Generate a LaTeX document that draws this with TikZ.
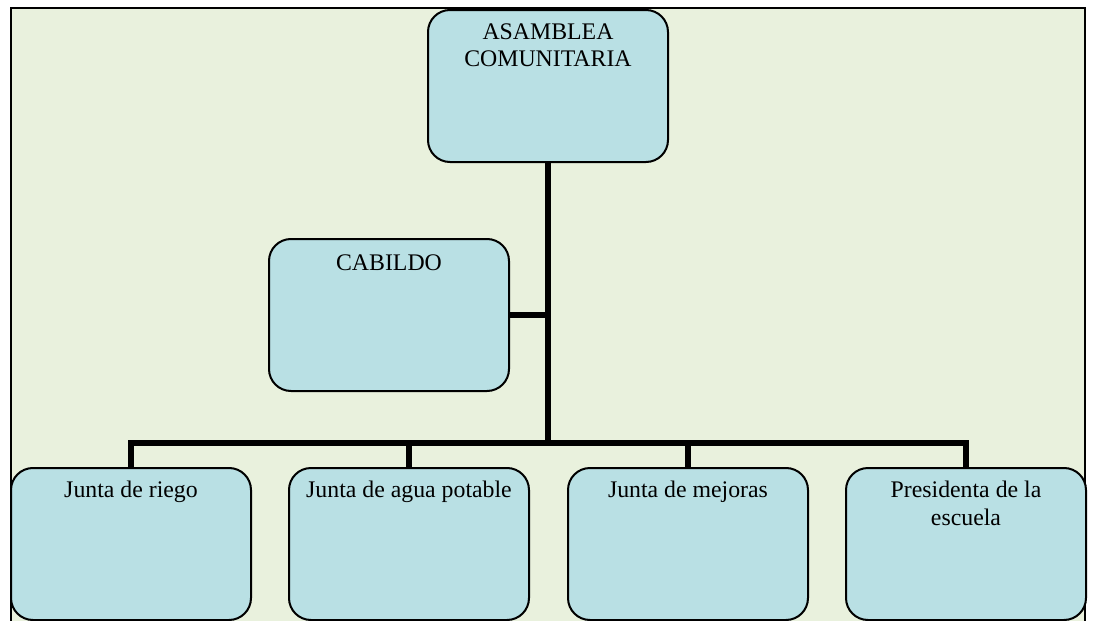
\documentclass[tikz,border=0pt]{standalone}
\usepackage{fontspec}
\setmainfont{Liberation Serif}
\usetikzlibrary{math,positioning}
\definecolor{fondo}{RGB}{233,241,221}
\definecolor{cajaazul}{RGB}{185,224,228}

\begin{document}
\begin{tikzpicture}[x=0.5pt,y=-0.5pt,
    caja/.style={draw=black, line width=1pt, fill=cajaazul, rounded corners=11pt,
      minimum width=120pt, minimum height=76pt, inner sep=0pt},
    texto/.style={align=center, font=\fontsize{11.9}{13.6}\selectfont, inner sep=0pt},
    linea/.style={line width=3pt}]
  \tikzmath{\tronco = 548; \barra = 443; \fila = 544;}
  \useasboundingbox (0,0) rectangle (1094,621);
  \fill[white] (0,0) rectangle (1094,621);
  \draw[fill=fondo, line width=1pt] (11,8) rectangle (1085,630);

  % cajas
  \node[caja] (asamblea) at (\tronco,86) {};
  \node[caja] (cabildo) at (389,315) {};
  \node[caja] (riego) at (131,\fila) {};
  \node[caja] (agua) at (409,\fila) {};
  \node[caja] (mejoras) at (688,\fila) {};
  \node[caja] (presidenta) at (966,\fila) {};

  % textos
  \node[texto, below=7pt of asamblea.north] (asamblea-t) {ASAMBLEA\\COMUNITARIA};
  \node[texto, below=8pt of cabildo.north] (cabildo-t) {CABILDO};
  \node[texto, below=7pt of riego.north] (riego-t) {Junta de riego};
  \node[texto, below=7pt of agua.north] (agua-t) {Junta de agua potable};
  \node[texto, below=7pt of mejoras.north] (mejoras-t) {Junta de mejoras};
  \node[texto, below=7pt of presidenta.north] (presidenta-t) {Presidenta de la\\escuela};

  % conectores
  \coordinate (nudo) at (\tronco,\barra);
  \draw[linea] (asamblea.south) -- (nudo);
  \draw[linea] (cabildo.east) -- (cabildo.east -| nudo);
  \draw[linea] (riego.north) |- (nudo) -| (presidenta.north);
  \draw[linea] (agua.north) -- (agua.north |- nudo);
  \draw[linea] (mejoras.north) -- (mejoras.north |- nudo);
\end{tikzpicture}
\end{document}
